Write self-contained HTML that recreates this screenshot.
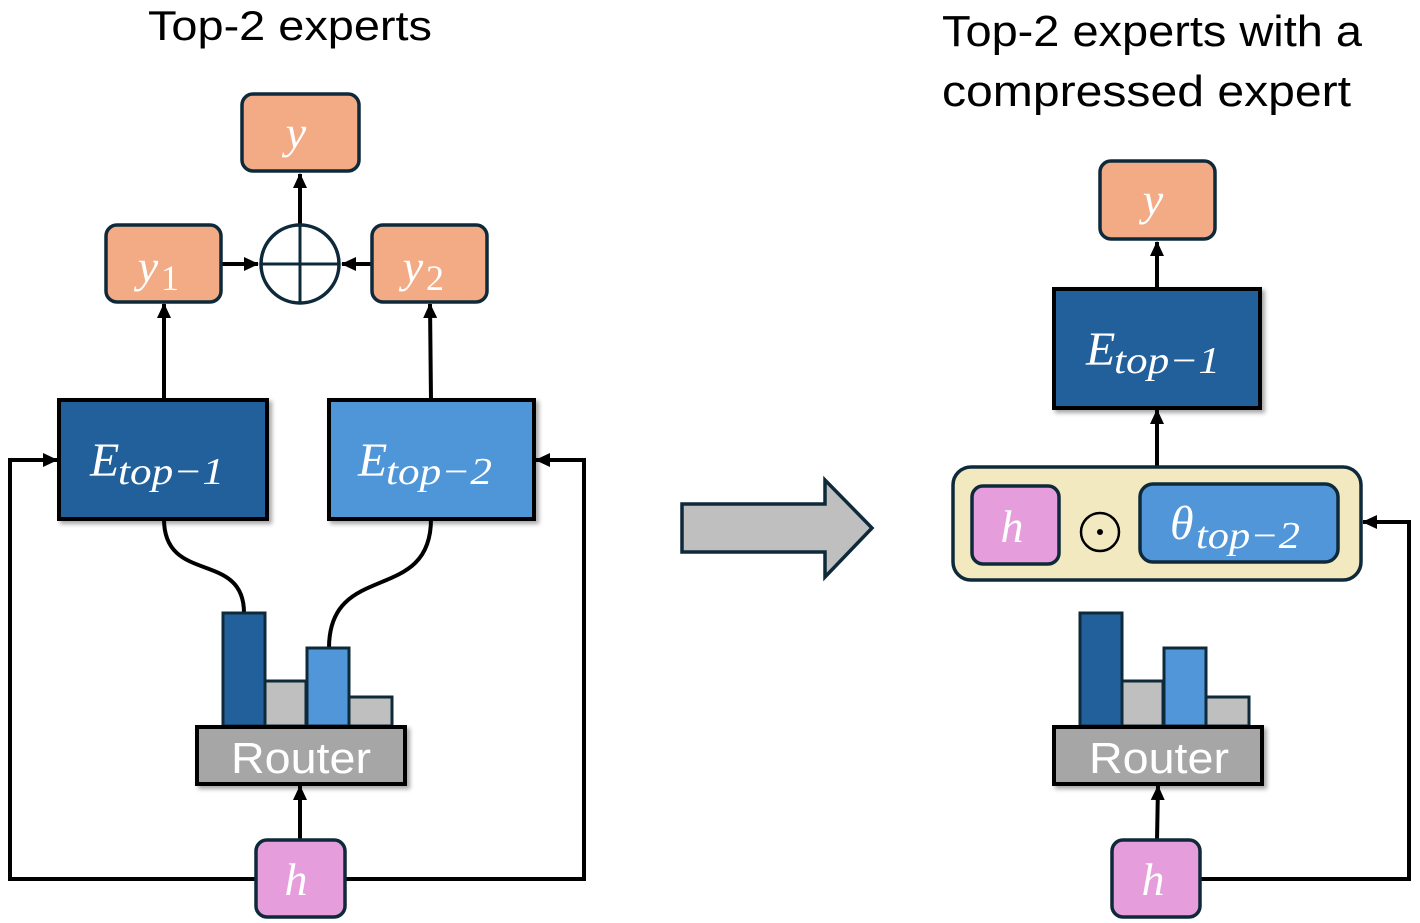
<!DOCTYPE html>
<html><head><meta charset="utf-8"><style>
html,body{margin:0;padding:0;background:#fff}
svg{display:block}
.t{font-family:"Liberation Sans",sans-serif;fill:#000}
.m{font-family:"Liberation Serif",serif;font-style:italic;fill:#fff}
.n{font-family:"Liberation Serif",serif;font-style:normal;fill:#fff}
</style></head><body>
<svg width="1420" height="923" viewBox="0 0 1420 923" xmlns="http://www.w3.org/2000/svg">
<defs>
<marker id="a2" markerWidth="16" markerHeight="16" refX="14" refY="8" orient="auto" markerUnits="userSpaceOnUse"><path d="M0,1 L15,8 L0,15 Z" fill="#000"/></marker>
<filter id="s" x="-10%" y="-10%" width="130%" height="130%"><feDropShadow dx="3" dy="3" stdDeviation="2" flood-color="#000" flood-opacity="0.35"/></filter>
</defs>
<text class="t" x="148" y="40" font-size="42" textLength="284" lengthAdjust="spacingAndGlyphs">Top-2 experts</text>
<text class="t" x="942" y="46" font-size="44" textLength="420" lengthAdjust="spacingAndGlyphs">Top-2 experts with a</text>
<text class="t" x="942" y="106" font-size="44" textLength="409" lengthAdjust="spacingAndGlyphs">compressed expert</text>

<!-- LEFT -->
<g stroke="#000" stroke-width="4" fill="none">
<path d="M300 224 V174" marker-end="url(#a2)"/>
<path d="M221 264 H258" marker-end="url(#a2)"/>
<path d="M372 264 H342" marker-end="url(#a2)"/>
<path d="M164 400 V304" marker-end="url(#a2)"/>
<path d="M431 400 L430 304" marker-end="url(#a2)"/>
<path d="M300 840 V786" marker-end="url(#a2)"/>
<path d="M256 879 H10 V460 H57" marker-end="url(#a2)"/>
<path d="M345 879 H584 V460 H536" marker-end="url(#a2)"/>
<path d="M164 519 C164 585 244 550 244 613"/>
<path d="M431 519 C431 605 329 560 329 648"/>
</g>
<rect x="242" y="94" width="117" height="77" rx="11" fill="#F2AB85" stroke="#0E2A3A" stroke-width="3.5"/>
<text class="m" x="296" y="148" font-size="46" text-anchor="middle">y</text>
<rect x="106" y="225" width="115" height="77" rx="11" fill="#F2AB85" stroke="#0E2A3A" stroke-width="3.5"/>
<text class="m" x="148" y="282" font-size="46" text-anchor="middle">y</text><text class="n" x="170" y="290" font-size="36" text-anchor="middle">1</text>
<rect x="372" y="225" width="115" height="77" rx="11" fill="#F2AB85" stroke="#0E2A3A" stroke-width="3.5"/>
<text class="m" x="413" y="282" font-size="46" text-anchor="middle">y</text><text class="n" x="435" y="290" font-size="36" text-anchor="middle">2</text>
<circle cx="300" cy="264" r="39" fill="#fff" stroke="#0E2A3A" stroke-width="3.5"/>
<path d="M300 225 V303 M261 264 H339" stroke="#0E2A3A" stroke-width="3"/>
<rect x="59" y="400" width="208" height="119" fill="#22609C" stroke="#000" stroke-width="4" filter="url(#s)"/>
<text class="m" x="90" y="476" font-size="48">E</text><text class="m" x="118" y="484" font-size="38" textLength="106" lengthAdjust="spacingAndGlyphs">top−1</text>
<rect x="329" y="400" width="205" height="119" fill="#5096D8" stroke="#000" stroke-width="4" filter="url(#s)"/>
<text class="m" x="358" y="476" font-size="48">E</text><text class="m" x="386" y="484" font-size="38" textLength="106" lengthAdjust="spacingAndGlyphs">top−2</text>
<g stroke="#0E2A3A" stroke-width="3">
<rect x="223" y="613" width="42" height="113" fill="#22609C"/>
<rect x="265" y="681" width="41" height="45" fill="#BFBFBF"/>
<rect x="307" y="648" width="42" height="78" fill="#5096D8"/>
<rect x="349" y="697" width="43" height="29" fill="#BFBFBF"/>
</g>
<rect x="197" y="727" width="208" height="57" fill="#A6A6A6" stroke="#000" stroke-width="4" filter="url(#s)"/>
<text x="231" y="773" font-size="44" textLength="140" lengthAdjust="spacingAndGlyphs" font-family="Liberation Sans, sans-serif" fill="#fff">Router</text>
<rect x="256" y="840" width="89" height="77" rx="11" fill="#E59EDB" stroke="#0E2A3A" stroke-width="3.5"/>
<text class="m" x="296" y="895" font-size="46" text-anchor="middle">h</text>

<!-- big arrow -->
<path d="M682 504 H825 V480 L872 528 L825 577 V552 H682 Z" fill="#BFBFBF" stroke="#0E2A3A" stroke-width="3.5"/>

<!-- RIGHT -->
<g stroke="#000" stroke-width="4" fill="none">
<path d="M1157 289 V242" marker-end="url(#a2)"/>
<path d="M1157 467 V410" marker-end="url(#a2)"/>
<path d="M1157 840 L1158 786" marker-end="url(#a2)"/>
<path d="M1200 879 H1409 V522 H1363" marker-end="url(#a2)"/>
</g>
<rect x="1100" y="161" width="115" height="78" rx="11" fill="#F2AB85" stroke="#0E2A3A" stroke-width="3.5"/>
<text class="m" x="1153" y="215" font-size="46" text-anchor="middle">y</text>
<rect x="1054" y="289" width="206" height="119" fill="#22609C" stroke="#000" stroke-width="4" filter="url(#s)"/>
<text class="m" x="1086" y="365" font-size="48">E</text><text class="m" x="1114" y="373" font-size="38" textLength="106" lengthAdjust="spacingAndGlyphs">top−1</text>
<rect x="953" y="467" width="408" height="113" rx="18" fill="#F2E9C0" stroke="#0E2A3A" stroke-width="3.5"/>
<rect x="972" y="486" width="87" height="78" rx="11" fill="#E59EDB" stroke="#0E2A3A" stroke-width="3.5"/>
<text class="m" x="1012" y="542" font-size="46" text-anchor="middle">h</text>
<circle cx="1100" cy="532" r="19" fill="none" stroke="#000" stroke-width="2.5"/>
<circle cx="1100" cy="532" r="3" fill="#000"/>
<rect x="1140" y="484" width="198" height="78" rx="13" fill="#5096D8" stroke="#0E2A3A" stroke-width="3.5"/>
<text class="m" x="1170" y="539" font-size="48">θ</text><text class="m" x="1196" y="548" font-size="38" textLength="104" lengthAdjust="spacingAndGlyphs">top−2</text>
<g stroke="#0E2A3A" stroke-width="3">
<rect x="1080" y="613" width="42" height="113" fill="#22609C"/>
<rect x="1122" y="681" width="41" height="45" fill="#BFBFBF"/>
<rect x="1164" y="648" width="42" height="78" fill="#5096D8"/>
<rect x="1206" y="697" width="43" height="29" fill="#BFBFBF"/>
</g>
<rect x="1054" y="727" width="208" height="57" fill="#A6A6A6" stroke="#000" stroke-width="4" filter="url(#s)"/>
<text x="1089" y="773" font-size="44" textLength="140" lengthAdjust="spacingAndGlyphs" font-family="Liberation Sans, sans-serif" fill="#fff">Router</text>
<rect x="1112" y="840" width="88" height="77" rx="11" fill="#E59EDB" stroke="#0E2A3A" stroke-width="3.5"/>
<text class="m" x="1153" y="895" font-size="46" text-anchor="middle">h</text>
</svg>
</body></html>
